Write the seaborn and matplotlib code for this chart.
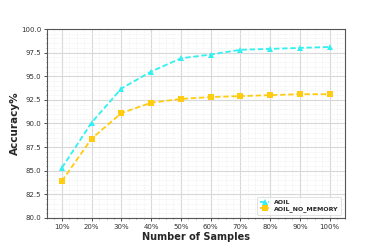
import matplotlib
matplotlib.use("Agg")
import matplotlib.pyplot as plt
import seaborn as sns
import pandas as pd
from matplotlib.ticker import AutoMinorLocator, MultipleLocator

categories = ["10%", "20%", "30%", "40%", "50%", "60%", "70%", "80%", "90%", "100%"]
aoil = [85.3, 90.1, 93.7, 95.5, 96.9, 97.3, 97.8, 97.9, 98.0, 98.1]
aoil_no_memory = [83.9, 88.4, 91.1, 92.2, 92.6, 92.8, 92.9, 93.0, 93.1, 93.1]

sns.set_style("whitegrid")
fig, ax = plt.subplots(figsize=(3.82, 2.46), dpi=100)
fig.subplots_adjust(left=0.123, right=0.902, top=0.882, bottom=0.114)

x = list(range(len(categories)))
df = pd.DataFrame({"x": x * 2,
                   "y": aoil + aoil_no_memory,
                   "series": ["AOIL"] * len(x) + ["AOIL_NO_MEMORY"] * len(x)})
sns.lineplot(data=df, x="x", y="y", hue="series", style="series",
             palette={"AOIL": "#33f0f0", "AOIL_NO_MEMORY": "#ffcc11"},
             markers={"AOIL": "^", "AOIL_NO_MEMORY": "s"},
             dashes={"AOIL": (3, 1.5), "AOIL_NO_MEMORY": (3, 1.5)},
             markersize=4, linewidth=1.3, markeredgewidth=0, ax=ax)

ax.set_xlim(-0.5, 9.5)
ax.set_ylim(80, 100)
ax.set_xticks(x)
ax.set_xticklabels(categories)
ax.yaxis.set_major_locator(MultipleLocator(2.5))
ax.yaxis.set_major_formatter(matplotlib.ticker.FormatStrFormatter("%.1f"))
ax.xaxis.set_minor_locator(AutoMinorLocator(4))
ax.yaxis.set_minor_locator(AutoMinorLocator(5))
ax.tick_params(axis="both", which="major", labelsize=5, colors="#333333", length=2, width=0.6, direction="out", pad=2)
ax.tick_params(axis="both", which="minor", length=1, width=0.4, colors="#333333")
ax.tick_params(bottom=True, left=True)
ax.tick_params(which="minor", bottom=True, left=True)
ax.grid(True, which="major", color="#d8d8d8", linewidth=0.8)
ax.grid(True, which="minor", color="#eeeeee", linewidth=0.4, linestyle="--")
for s in ax.spines.values():
    s.set_color("#555555")
    s.set_linewidth(0.8)

ax.set_xlabel("Number of Samples", fontsize=7, fontweight="bold", labelpad=2)
ax.set_ylabel("Accuracy%", fontsize=7.5, fontweight="bold", labelpad=1)

leg = ax.legend(loc="lower right", fontsize=4.5, frameon=True, handlelength=1.5,
                borderpad=0.4, labelspacing=0.2)
leg.get_frame().set_edgecolor("#cccccc")
leg.get_frame().set_linewidth(0.5)
for t in leg.get_texts():
    t.set_fontweight("bold")

fig.savefig("out.png", dpi=100)
